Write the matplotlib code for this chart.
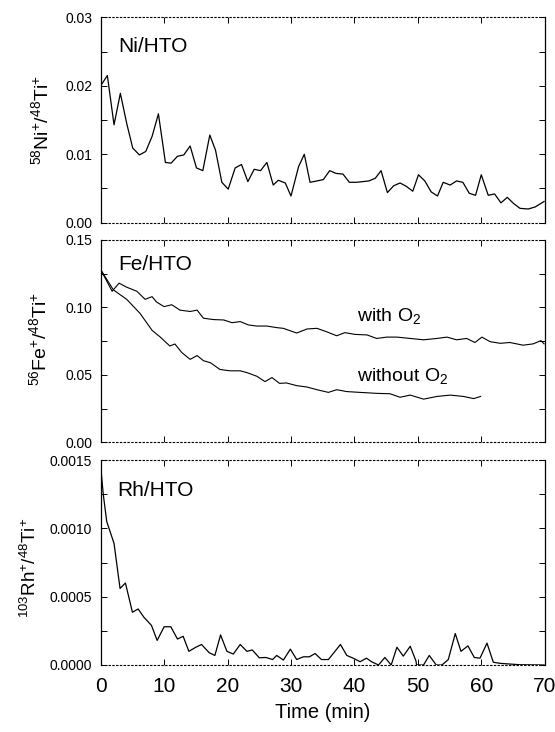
import matplotlib
matplotlib.use("Agg")
import matplotlib.pyplot as plt
from matplotlib.ticker import MultipleLocator, FormatStrFormatter

plt.rcParams['font.family'] = ['Liberation Sans', 'DejaVu Sans']
plt.rcParams['mathtext.fontset'] = 'custom'
plt.rcParams['mathtext.rm'] = 'Liberation Sans'
plt.rcParams['mathtext.it'] = 'Liberation Sans'
plt.rcParams['mathtext.bf'] = 'Liberation Sans:bold'
plt.rcParams['mathtext.default'] = 'regular'

# ---- Ni/HTO ----
ni_t = [0, 1.05, 2.1, 3.1, 4.1, 5.05, 6.1, 7.1, 8.1, 9.1, 10.2, 11.1, 12.1, 13.1, 14.1,
        15.1, 16.1, 17.2, 18.1, 19.1, 20.1, 21.2, 22.2, 23.2, 24.2, 25.2, 26.2, 27.2,
        28.0, 29.1, 30.0, 31.2, 32.1, 33.0, 34.1, 35.1, 36.1, 37.1, 38.2, 39.2, 40.3,
        41.3, 42.3, 43.3, 44.2, 45.2, 46.2, 47.2, 48.2, 49.2, 50.1, 51.1, 52.1, 53.1,
        54.0, 55.1, 56.1, 57.1, 58.1, 59.1, 60.0, 61.1, 62.1, 63.1, 64.1, 65.1, 66.1,
        67.4, 68.5, 69.9]
ni_y = [0.0200, 0.0215, 0.0143, 0.0189, 0.0145, 0.0109, 0.0099, 0.0104, 0.0126, 0.0159,
        0.0088, 0.0087, 0.0097, 0.0099, 0.0112, 0.0080, 0.0076, 0.0128, 0.0106, 0.0059,
        0.0049, 0.0080, 0.0085, 0.0060, 0.0078, 0.0076, 0.0088, 0.0055, 0.0062, 0.0058,
        0.0039, 0.0082, 0.0100, 0.0059, 0.0061, 0.0063, 0.0076, 0.0072, 0.0071, 0.0059,
        0.0059, 0.0060, 0.0061, 0.0065, 0.0076, 0.0044, 0.0054, 0.0058, 0.0053, 0.0046,
        0.0070, 0.0061, 0.0045, 0.0039, 0.0059, 0.0055, 0.0061, 0.0059, 0.0043, 0.0040,
        0.0070, 0.0040, 0.0042, 0.0029, 0.0037, 0.0028, 0.0021, 0.0020, 0.0023, 0.0031]

# ---- Fe/HTO with O2 ----
fe_o2_t = [0, 1.8, 2.9, 4.1, 5.7, 7.0, 8.1, 8.8, 10.0, 11.2, 12.5, 14.1, 15.2, 16.2, 17.8,
           19.4, 20.7, 22.0, 23.3, 24.6, 26.2, 27.8, 28.8, 30.9, 32.5, 34.1, 35.6, 37.2,
           38.5, 40.1, 42.0, 43.5, 45.1, 46.7, 48.8, 50.9, 53.0, 54.6, 56.1, 57.7, 59.0,
           60.1, 61.4, 63.0, 64.5, 66.6, 68.2, 69.4, 69.9]
fe_o2_y = [0.128, 0.112, 0.118, 0.115, 0.112, 0.106, 0.108, 0.104, 0.1006, 0.102, 0.098,
           0.097, 0.098, 0.092, 0.091, 0.0907, 0.0887, 0.0895, 0.087, 0.0862, 0.0862,
           0.085, 0.0845, 0.081, 0.084, 0.0845, 0.082, 0.079, 0.0813, 0.080, 0.0796,
           0.077, 0.078, 0.078, 0.077, 0.076, 0.077, 0.078, 0.076, 0.077, 0.074, 0.078,
           0.0746, 0.0734, 0.074, 0.072, 0.073, 0.0754, 0.073]

# ---- Fe/HTO without O2 ----
fe_t = [0, 2.0, 4.1, 6.2, 8.1, 9.4, 10.9, 11.7, 12.8, 14.1, 15.2, 16.2, 17.3, 18.8, 20.4,
        22.0, 23.1, 24.6, 25.9, 27.0, 28.2, 29.3, 30.9, 32.5, 34.1, 35.9, 37.2, 38.8,
        40.9, 43.5, 45.6, 47.2, 48.8, 50.9, 53.0, 55.1, 57.2, 58.8, 59.9]
fe_y = [0.128, 0.113, 0.106, 0.0956, 0.083, 0.078, 0.0714, 0.0729, 0.0665, 0.0615, 0.0643,
        0.0605, 0.059, 0.054, 0.053, 0.053, 0.0516, 0.049, 0.045, 0.048, 0.0437, 0.044,
        0.042, 0.041, 0.039, 0.037, 0.039, 0.0376, 0.037, 0.0363, 0.036, 0.0334, 0.035,
        0.032, 0.034, 0.035, 0.034, 0.0324, 0.034]

# ---- Rh/HTO ----
rh_t = [0, 0.4, 0.95, 2.1, 3.05, 3.9, 5.0, 5.9, 6.8, 8.0, 8.9, 10.0, 11.05, 12.1, 13.0,
        13.9, 15.0, 15.9, 17.1, 18.0, 18.9, 19.9, 20.9, 22.0, 23.05, 23.9, 25.0, 26.05,
        27.1, 27.75, 28.8, 29.9, 30.9, 31.95, 32.9, 33.8, 34.8, 35.9, 37.8, 38.8, 39.8,
        40.9, 41.9, 42.7, 43.8, 44.8, 45.8, 46.7, 47.7, 48.8, 49.7, 49.8, 50.9, 51.8,
        52.9, 53.8, 54.8, 55.9, 56.8, 57.9, 58.9, 59.8, 60.9, 61.9, 63.0, 64.5, 66.1, 69.9]
rh_y = [0.00145, 0.00125, 0.00105, 0.00089, 0.00056, 0.00060, 0.000386, 0.00041, 0.00035,
        0.00029, 0.00018, 0.00028, 0.00028, 0.00019, 0.00021, 0.00010, 0.00013, 0.00015,
        0.00009, 0.00007, 0.00022, 0.00010, 0.00008, 0.00015, 0.00010, 0.00011, 0.000053,
        0.000055, 0.00004, 0.00007, 0.000036, 0.000116, 0.00004, 0.00006, 0.00006,
        0.000084, 0.00004, 0.00004, 0.00015, 0.00007, 0.00005, 0.000024, 0.00005,
        0.000024, 0.0, 0.000055, 0.0, 0.00013, 0.000065, 0.000137, 0.00003, 0.0, 0.0,
        0.00007, 0.0, 0.0, 0.00004, 0.00023, 0.00010, 0.00014, 0.000055, 0.00005,
        0.00016, 0.00002, 0.000012, 0.000007, 0.000002, 0.0]

x_ticks = [0, 10, 20, 30, 40, 50, 60, 70]

fig = plt.figure(figsize=(5.55, 7.32), dpi=100)
W, H = 555.0, 732.0
left, right = 100.7 / W, 544.7 / W
panels = [(17.3, 222.7), (240.0, 442.3), (460.0, 665.0)]
axes = []
for top, bot in panels:
    ax = fig.add_axes([left, (H - bot) / H, right - left, (bot - top) / H])
    axes.append(ax)

ax1, ax2, ax3 = axes
ax1.plot(ni_t, ni_y, color='black', lw=0.9)
ax2.plot(fe_o2_t, fe_o2_y, color='black', lw=0.8)
ax2.plot(fe_t, fe_y, color='black', lw=0.8)
ax3.plot(rh_t, rh_y, color='black', lw=0.9)

ylims = [(0, 0.03), (0, 0.15), (0, 0.0015)]
majors = [0.01, 0.05, 0.0005]
fmts = ['%.2f', '%.2f', '%.4f']
for ax, yl, mj, fm in zip(axes, ylims, majors, fmts):
    ax.set_xlim(0, 70)
    ax.set_ylim(*yl)
    ax.set_xticks(x_ticks)
    ax.yaxis.set_major_locator(MultipleLocator(mj))
    ax.yaxis.set_minor_locator(MultipleLocator(mj / 2))
    ax.yaxis.set_major_formatter(FormatStrFormatter(fm))
    ax.tick_params(axis='both', which='both', direction='in', top=True, right=True,
                   length=4, width=0.7, color='black')
    ax.tick_params(axis='y', labelsize=10, pad=6)
    for s in ['left', 'right']:
        ax.spines[s].set_linewidth(0.9)
    for s in ['top', 'bottom']:
        ax.spines[s].set_linewidth(0.8)
        ax.spines[s].set_linestyle((0, (1.2, 2.2)))

ax1.tick_params(axis='x', labelbottom=False)
ax2.tick_params(axis='x', labelbottom=False)
ax3.tick_params(axis='x', labelsize=15, pad=9)
ax3.set_xlabel('Time (min)', fontsize=14.5, labelpad=5)

ax1.text(2.8, 0.0257, 'Ni/HTO', fontsize=15, va='center', ha='left')
ax2.text(2.8, 0.1316, 'Fe/HTO', fontsize=15, va='center', ha='left')
ax3.text(2.6, 0.00128, 'Rh/HTO', fontsize=15, va='center', ha='left')
ax2.text(40.4, 0.0936, 'with O$_2$', fontsize=14, va='center', ha='left')
ax2.text(40.4, 0.0494, 'without O$_2$', fontsize=14, va='center', ha='left')

ax1.text(-0.134, 0.50, '$^{58}$Ni$^{+}$/$^{48}$Ti$^{+}$', transform=ax1.transAxes,
         rotation=90, ha='center', va='center', fontsize=14)
ax2.text(-0.138, 0.513, '$^{56}$Fe$^{+}$/$^{48}$Ti$^{+}$', transform=ax2.transAxes,
         rotation=90, ha='center', va='center', fontsize=14)
ax3.text(-0.160, 0.476, '$^{103}$Rh$^{+}$/$^{48}$Ti$^{+}$', transform=ax3.transAxes,
         rotation=90, ha='center', va='center', fontsize=13.5)

fig.savefig('out.png', dpi=100)
